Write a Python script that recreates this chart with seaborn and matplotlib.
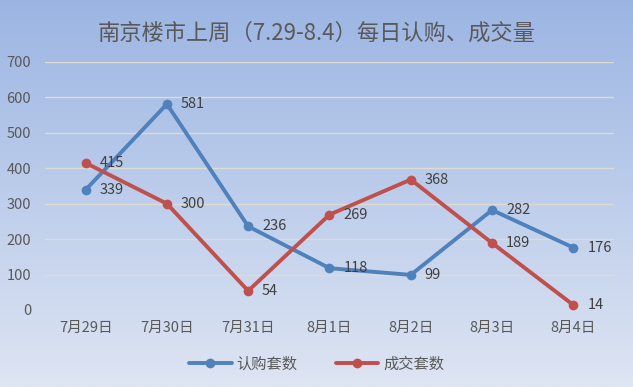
import numpy as np
import pandas as pd
import seaborn as sns
import matplotlib.pyplot as plt

# data
days = ['7月29日', '7月30日', '7月31日', '8月1日', '8月2日', '8月3日', '8月4日']
subscribed = [339, 581, 236, 118, 99, 282, 176]
deals = [415, 300, 54, 269, 368, 189, 14]
series_names = ['认购套数', '成交套数']
title = '南京楼市上周（7.29-8.4）每日认购、成交量'

df = pd.DataFrame({
    'day': days * 2,
    'value': subscribed + deals,
    'series': [series_names[0]] * len(days) + [series_names[1]] * len(days),
})

sns.set_style('white')
plt.rcParams['font.family'] = ['Noto Sans CJK SC', 'DejaVu Sans']

fig = plt.figure(figsize=(6.33, 3.87), dpi=100)

# background gradient
bg = fig.add_axes([0, 0, 1, 1], zorder=-1)
top = np.array([155, 181, 227]) / 255
bot = np.array([222, 229, 243]) / 255
t = np.linspace(0, 1, 256)[:, None]
grad = top + (bot - top) * t
bg.imshow(grad[:, None, :].repeat(2, axis=1), aspect='auto', extent=[0, 1, 0, 1])
bg.axis('off')

ax = fig.add_axes([0.071, 0.199, 0.899, 0.641])
ax.set_facecolor('none')

colors = {'认购套数': '#4f81bd', '成交套数': '#c0504d'}
sns.lineplot(data=df, x='day', y='value', hue='series', palette=colors,
             marker='o', markersize=7, markeredgewidth=0, linewidth=2.8,
             sort=False, ax=ax, legend=False)

for name, vals in zip(series_names, [subscribed, deals]):
    for i, v in enumerate(vals):
        ax.annotate(str(v), (i, v), xytext=(10, 0), textcoords='offset points',
                    va='center', ha='left', fontsize=10.5, color='#404040')

ax.set_xlim(-0.5, len(days) - 0.5)
ax.set_ylim(0, 700)
ax.set_yticks(range(0, 701, 100))
ax.grid(axis='y', color='#dedbd3', linewidth=1)
ax.set_axisbelow(True)
for s in ax.spines.values():
    s.set_visible(False)
ax.tick_params(axis='both', length=0, labelsize=10.5, colors='#595959', pad=8)
ax.tick_params(axis='y', pad=10)
ax.set_xlabel('')
ax.set_ylabel('')

fig.text(0.5, 0.915, title, ha='center', va='center', fontsize=16, color='#595959')

handles = [plt.Line2D([], [], color=colors[n], marker='o', markersize=7,
                      markeredgewidth=0, linewidth=2.8) for n in series_names]
fig.legend(handles, series_names, loc='center', bbox_to_anchor=(0.5, 0.06),
           ncol=2, frameon=False, fontsize=11, labelcolor='#595959',
           handlelength=2.8, handletextpad=0.3, columnspacing=2.5)

fig.savefig('out.png', dpi=100)
